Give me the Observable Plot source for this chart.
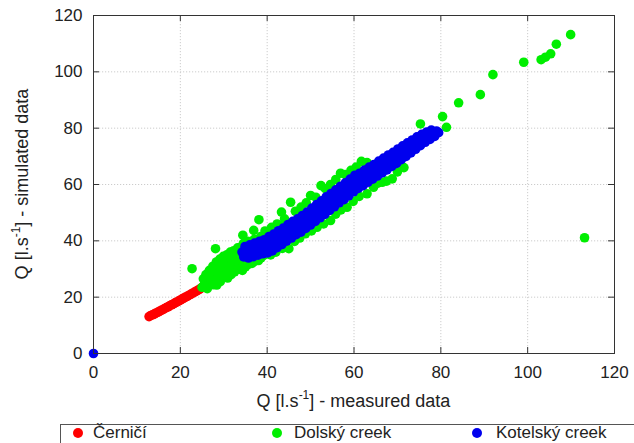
<!DOCTYPE html>
<html><head><meta charset="utf-8">
<script src="https://cdn.jsdelivr.net/npm/d3@7"></script>
<script src="https://cdn.jsdelivr.net/npm/@observablehq/plot@0.6"></script>
<style>
body{margin:0;background:#fff;font-family:"Liberation Sans",Arial,sans-serif;}
#wrap{position:relative;width:634px;height:443px;overflow:hidden;}
#legend{position:absolute;left:60px;top:424px;width:600px;height:30px;border:1px solid #555;box-sizing:border-box;}
.item{position:absolute;top:-2px;height:20px;line-height:20px;font-size:17px;color:#222;white-space:nowrap;}
.dot{position:absolute;width:10px;height:10px;border-radius:50%;top:3px;}
</style></head>
<body><div id="wrap"><div id="chart"></div><div id="legend"></div></div>
<script>
const seriesNames = ["Černičí", "Dolský creek", "Kotelský creek"];
const seriesColors = ["#ff0000", "#00ee00", "#0000ee"];
const xTicks = [0, 20, 40, 60, 80, 100, 120];
const yTicks = [0, 20, 40, 60, 80, 100, 120];
const xLabel = ["Q [l.s", "-1", "] - measured data"];
const yLabel = ["Q [l.s", "-1", "] - simulated data"];

const cernici = [[12.8,13.1],[13.2,13.5],[13.6,13.7],[14.0,14.0],[14.4,14.4],[14.8,14.6],[15.2,15.0],[15.6,15.3],[16.0,15.6],[16.4,16.0],[16.8,16.3],[17.2,16.6],[17.6,17.0],[18.0,17.3],[18.4,17.6],[18.8,18.0],[19.2,18.3],[19.6,18.6],[20.0,19.0],[20.4,19.3],[20.8,19.7],[21.2,20.0],[21.6,20.3],[22.0,20.7],[22.4,21.0],[22.8,21.4],[23.2,21.7],[23.6,22.1],[24.0,22.4],[24.4,22.8],[24.8,23.2],[25.2,23.6],[25.5,24.2]];

const dolsky = [[22.7,30.1],[25.0,23.5],[25.3,26.5],[25.6,24.6],[25.9,28.0],[26.2,23.0],[26.4,26.0],[26.7,29.5],[27.0,24.8],[27.2,27.6],[27.5,31.0],[27.8,25.6],[28.0,29.0],[28.1,37.2],[28.3,32.5],[28.6,26.5],[28.8,30.5],[29.1,33.5],[29.4,27.5],[29.6,31.5],[29.9,34.5],[30.2,28.0],[30.4,32.5],[30.7,35.0],[31.0,28.2],[31.2,33.5],[31.5,36.0],[31.8,30.5],[32.0,34.0],[32.3,36.5],[32.6,30.8],[32.9,35.5],[33.2,37.5],[33.5,32.0],[33.8,35.8],[34.4,42.0],[34.5,39.0],[34.8,32.5],
[26.0,25.2],[26.1,27.2],[26.5,28.8],[27.1,26.0],[27.3,29.8],[27.6,24.4],[27.9,27.5],[28.2,30.0],[28.4,24.3],[28.7,28.2],[28.9,32.5],[29.2,25.5],[29.5,30.2],[29.8,33.0],[30.0,27.0],[30.3,30.5],[30.6,33.8],[30.9,26.8],[31.1,31.2],[31.4,34.5],[31.7,28.0],[31.9,32.5],[32.2,35.2],[32.5,29.0],[32.8,33.0],[33.1,36.5],[33.4,30.0],[33.7,33.8],[34.0,37.8],[34.3,29.5],[34.6,31.5],[35.0,30.8],[35.6,31.6],[36.2,32.2],[37.0,32.6],[37.8,33.2],[38.6,34.0],[34.0,35.5],[33.0,34.8],[32.0,33.5],[35.2,33.2],
[35.5,39.8],[37.0,40.5],[38.5,41.5],[40.0,42.8],[41.5,43.8],[43.0,45.0],[44.5,46.5],
[36.9,43.7],[38.1,47.5],[39.5,43.5],[41.0,44.8],[42.3,46.0],[43.3,50.2],[44.0,47.8],[45.4,53.7],[46.5,50.5],[47.8,52.0],[49.0,53.5],[50.0,56.1],[51.2,55.5],[52.4,59.6],[53.4,58.5],[54.6,60.0],[55.8,61.8],[56.9,64.0],[58.0,63.5],[59.3,65.0],[60.5,66.2],[61.7,68.2],[63.0,67.8],[75.3,81.5],[80.4,84.1],[81.3,80.3],
[36.5,32.0],[38.0,33.0],[39.2,34.8],[40.8,35.0],[42.0,36.0],[43.5,37.3],[45.0,37.2],[46.3,39.8],[47.5,41.0],[48.8,42.5],[50.2,43.5],[51.5,44.8],[53.0,46.0],[54.6,47.2],[55.8,49.5],[57.0,51.0],[58.4,51.9],[59.8,54.0],[61.2,55.8],[63.0,56.7],[64.5,59.0],[65.5,60.5],[66.5,60.8],[67.5,61.2],[68.8,62.0],[70.0,64.5],[71.5,66.0],
[84.1,89.0],[89.1,91.9],[92.0,99.0],[99.1,103.4],[103.1,104.3],[104.1,105.2],[105.3,106.4],[106.6,109.8],[109.9,113.2],[113.1,41.1]];

const kotelsky = [[0,0],
[34.2,36.0],[34.6,34.3],[34.9,38.0],[35.3,35.8],[35.7,33.9],[36.0,38.6],[36.4,36.3],[36.8,34.4],[37.1,39.2],[37.5,36.9],[37.9,34.9],[38.2,39.8],[38.6,37.5],[39.0,35.4],[39.3,40.4],[39.7,38.2],[40.1,35.7],[40.4,41.5],[40.8,39.3],[41.2,36.4],[41.5,42.4],[41.9,40.4],[42.3,37.6],[42.6,43.6],[43.0,41.5],[43.4,38.7],[43.7,44.5],[44.1,42.6],[44.5,39.9],[44.8,45.8],[45.2,43.7],[45.6,41.0],[45.9,46.9],[46.3,44.8],[46.7,42.2],[47.0,47.8],[47.4,45.9],[47.8,43.1],[48.1,49.0],[48.5,47.0],[48.9,44.4],[49.2,50.2],[49.6,48.1],[50.0,45.6],[50.3,51.6],[50.7,49.4],[51.1,46.9],[51.4,52.9],[51.8,50.7],[52.2,48.2],[52.5,54.2],[52.9,52.0],[53.3,49.4],[53.6,55.6],[54.0,53.3],[54.4,50.8],[54.7,56.8],[55.1,54.6],[55.5,52.1],[55.8,58.1],[56.2,55.9],[56.6,53.5],[56.9,59.4],[57.3,57.2],[57.7,54.6],[58.0,60.6],[58.4,58.5],[58.8,56.0],[59.1,61.9],[59.5,59.7],[59.9,57.4],[60.2,63.3],[60.6,61.1],[61.0,58.6],[61.3,64.0],[61.7,62.2],[62.1,59.6],[62.4,65.1],[62.8,63.3],[63.2,60.8],[63.5,66.2],[63.9,64.4],[64.3,61.9],[64.6,67.1],[65.0,65.5],[65.4,63.0],[65.7,68.3],[66.1,66.6],[66.5,64.1],[66.8,69.4],[67.2,67.7],[67.6,65.2],[67.9,70.5],[68.3,68.8],[68.7,66.4],[69.0,71.4],[69.4,69.9],[69.8,67.5],[70.1,72.6],[70.5,71.0],[70.9,68.8],[71.2,73.7],[71.6,72.1],[72.0,70.0],[72.3,74.8],[72.7,73.2],[73.1,71.2],[73.4,75.8],[73.8,74.3],[74.2,72.5],[74.5,76.9],[74.9,75.4],[75.3,73.8],[75.6,77.8],[76.0,76.5],[76.4,75.0],[76.7,78.6],[77.1,77.4],[77.5,76.0],[77.8,79.3],[78.2,78.1],[78.6,77.1],[79.0,79.0],[79.5,78.4]];

const W = 634, H = 420, mL = 93, mR = 20, mT = 15, mB = 67;
const fw = W - mL - mR, fh = H - mT - mB;
const inner = xTicks.slice(1, -1), innerY = yTicks.slice(1, -1);
const font = '"Liberation Sans", Arial, sans-serif';

const plot = Plot.plot({
  width: W, height: H,
  marginLeft: mL, marginRight: mR, marginTop: mT, marginBottom: mB,
  x: {domain: [0, 120]},
  y: {domain: [0, 120]},
  style: {fontFamily: font, fontSize: "17px", color: "#222", background: "#fff", overflow: "visible"},
  marks: [
    Plot.gridX(inner, {stroke: "#cccccc", strokeOpacity: 1, strokeDasharray: "1.2,1.8"}),
    Plot.gridY(innerY, {stroke: "#cccccc", strokeOpacity: 1, strokeDasharray: "1.2,1.8"}),
    Plot.dot(cernici, {x: d => d[0], y: d => d[1], r: 4.8, fill: seriesColors[0]}),
    Plot.dot(dolsky, {x: d => d[0], y: d => d[1], r: 4.8, fill: seriesColors[1]}),
    Plot.dot(kotelsky, {x: d => d[0], y: d => d[1], r: 4.8, fill: seriesColors[2]}),
    Plot.tickX(inner, {x: d => d, insetTop: fh - 6, stroke: "#333"}),
    Plot.tickX(inner, {x: d => d, insetBottom: fh - 6, stroke: "#333"}),
    Plot.tickY(innerY, {y: d => d, insetRight: fw - 6, stroke: "#333"}),
    Plot.tickY(innerY, {y: d => d, insetLeft: fw - 6, stroke: "#333"}),
    Plot.frame({stroke: "#333"}),
    Plot.axisX(xTicks, {tickSize: 0, tickPadding: 12, label: null, fontSize: 17}),
    Plot.axisY(yTicks, {tickSize: 0, tickPadding: 11, label: null, fontSize: 17})
  ]
});
document.getElementById("chart").appendChild(plot);

const svg = d3.select(plot);
function addLabel(parts, attrs) {
  const t = svg.append("text").attr("text-anchor", "middle").attr("font-size", 18)
    .attr("fill", "#222").attr("font-family", font);
  for (const k in attrs) t.attr(k, attrs[k]);
  t.append("tspan").text(parts[0]);
  t.append("tspan").attr("dy", -8).attr("font-size", 12).text(parts[1]);
  t.append("tspan").attr("dy", 8).text(parts[2]);
}
addLabel(xLabel, {x: mL + fw / 2, y: 407});
addLabel(yLabel, {transform: `translate(28,${mT + fh / 2}) rotate(-90)`});

const lg = document.getElementById("legend");
const dotLeft = [12, 211, 411], textLeft = [32, 233, 435];
seriesNames.forEach((name, i) => {
  const d = document.createElement("div");
  d.className = "dot"; d.style.left = dotLeft[i] + "px"; d.style.background = seriesColors[i];
  lg.appendChild(d);
  const t = document.createElement("div");
  t.className = "item"; t.style.left = textLeft[i] + "px"; t.textContent = name;
  lg.appendChild(t);
});
</script>
</body></html>
